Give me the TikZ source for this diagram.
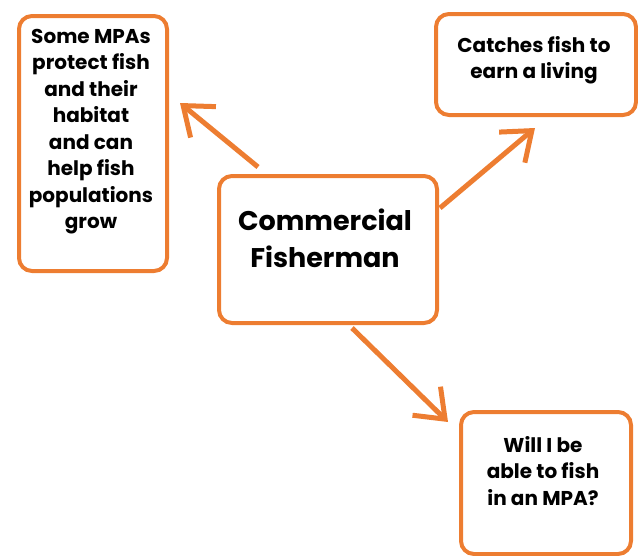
\documentclass[tikz,border=0pt]{standalone}
\usepackage{fontspec}
\setmainfont{Poppins}
\usetikzlibrary{arrows.meta}
\definecolor{orng}{HTML}{ED7D31}
\begin{document}
\begin{tikzpicture}[x=1pt,y=-1pt,
  box/.style={draw=orng, line width=4pt, rounded corners=13pt, anchor=north west, inner sep=0pt},
  txt/.style={anchor=north, align=center, inner sep=0pt, text=black, font=\bfseries\fontsize{20}{26.5}\selectfont},
  bigtxt/.style={txt, font=\bfseries\fontsize{27}{37}\selectfont},
  arr/.style={draw=orng, line width=5pt, -{Straight Barb[length=26pt, width=40pt, line width=5pt]}}
]
\useasboundingbox (0,0) rectangle (638,555);
% boxes
\node[box, minimum width=148pt, minimum height=255pt] (b1) at (17,14) {};
\node[box, minimum width=200pt, minimum height=101pt] (b2) at (434,12) {};
\node[box, minimum width=218pt, minimum height=147pt] (b3) at (217,174) {};
\node[box, minimum width=170pt, minimum height=142pt] (b4) at (459,410) {};
% texts
\node[txt] (t1) at (91,29) {Some MPAs\\protect fish\\and their\\habitat\\and can\\help fish\\populations\\grow};
\node[txt] (t2) at (534,36) {Catches fish to\\earn a living};
\node[bigtxt] (t3) at (325,209) {Commercial\\Fisherman};
\node[txt] (t4) at (543,436) {Will I be\\able to fish\\in an MPA?};
% arrow end points
\coordinate (a1s) at (258,167);
\coordinate (a1e) at (180,103);
\coordinate (a2s) at (440,208);
\coordinate (a2e) at (535,128);
\coordinate (a3s) at (352,328);
\coordinate (a3e) at (448,422);
\draw[arr] (a1s) -- (a1e);
\draw[arr] (a2s) -- (a2e);
\draw[arr] (a3s) -- (a3e);
\end{tikzpicture}
\end{document}
